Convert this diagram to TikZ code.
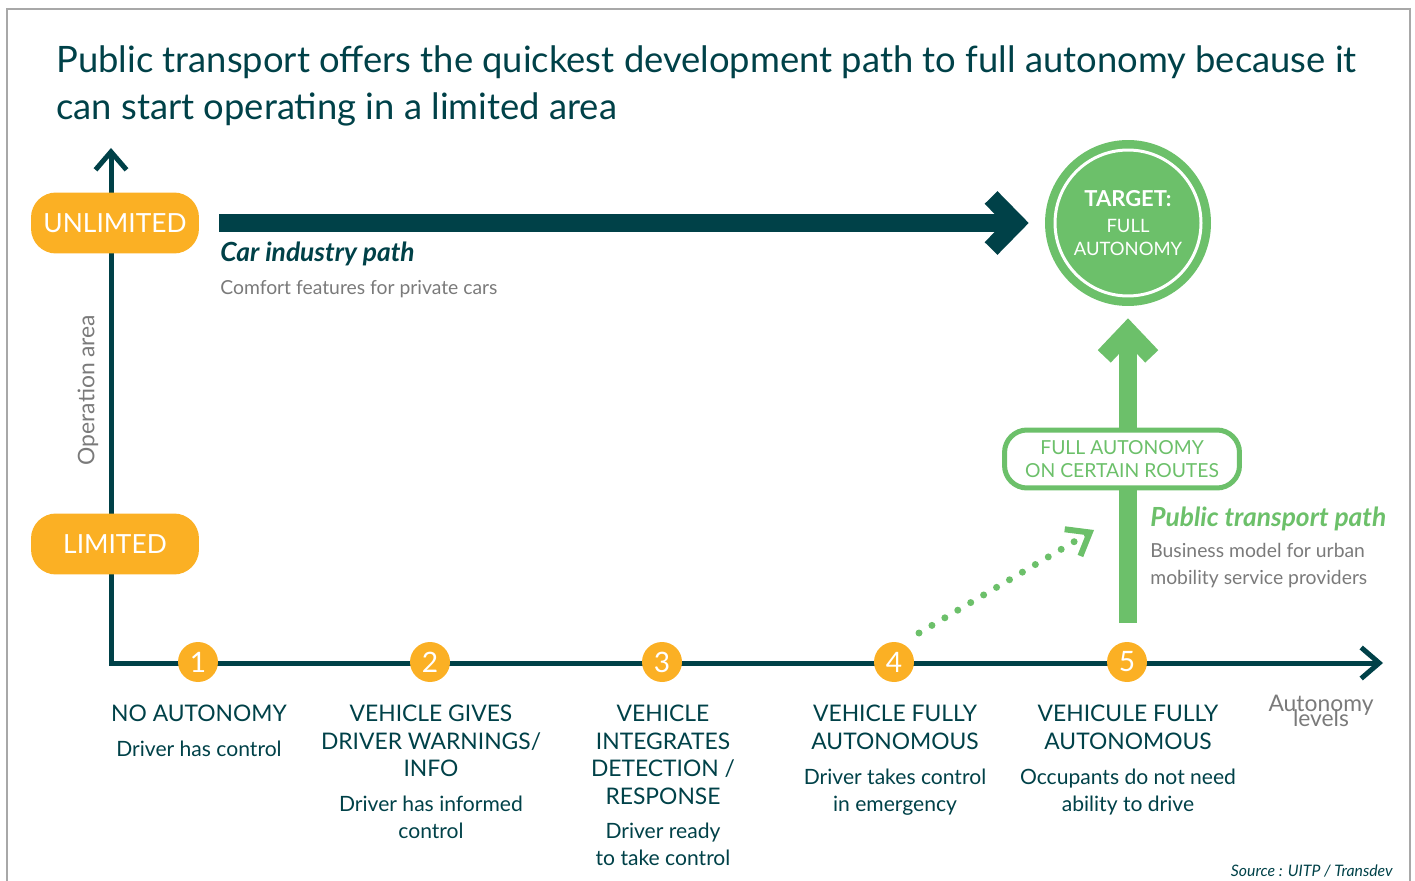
\documentclass[tikz,border=0pt]{standalone}
\usepackage{fontspec}
\setmainfont{Lato}
\usetikzlibrary{arrows.meta}
\definecolor{darkteal}{HTML}{004148}
\definecolor{autoorange}{HTML}{FBB024}
\definecolor{autogreen}{HTML}{6CC06A}
\definecolor{softgray}{HTML}{7A7A7A}
\definecolor{framegray}{HTML}{A8A8A8}
\tikzstyle{titletext}=[anchor=north west, inner sep=0pt, align=left, text=darkteal, font=\fontsize{20.7}{27}\selectfont]
\tikzstyle{pill}=[rectangle, rounded corners=0.5cm, fill=autoorange, text=white, minimum width=3.36cm, minimum height=1.22cm, font=\fontsize{15}{18}\selectfont]
\tikzstyle{level}=[circle, fill=autoorange, text=white, minimum size=0.8cm, inner sep=0pt, font=\fontsize{16}{18}\selectfont]
\tikzstyle{levelhead}=[anchor=north, inner sep=0pt, align=center, text=darkteal, font=\fontsize{13}{15.6}\selectfont]
\tikzstyle{leveltext}=[anchor=north, inner sep=0pt, align=center, text=darkteal, font=\fontsize{12}{15.4}\selectfont]
\tikzstyle{note}=[anchor=base west, inner sep=0pt, align=left, text=softgray, font=\fontsize{11}{15.3}\selectfont]
\tikzstyle{axis}=[draw=darkteal, line width=0.1cm, {Straight Barb[length=0.36cm,width=0.62cm]}-{Straight Barb[length=0.36cm,width=0.62cm]}]
\tikzstyle{cararrow}=[draw=darkteal, line width=0.36cm, -{Straight Barb[length=0.5cm,width=1.02cm]}]
\tikzstyle{ptarrow}=[draw=autogreen, line width=0.36cm, -{Straight Barb[length=0.5cm,width=0.95cm]}]
\tikzstyle{dotarrow}=[draw=autogreen, line width=0.14cm, line cap=round, dash pattern=on 0pt off 0.3cm, -{Straight Barb[length=0.4cm,width=0.62cm,line width=0.12cm]}]

\begin{document}
\begin{tikzpicture}[x=0.02cm, y=-0.02cm]
	\useasboundingbox (0,0) rectangle (1415,881);
	\draw[framegray, line width=0.03cm] (7,881) -- (7,9) -- (1410,9) -- (1410,881);

	\node (title) at (56,45)[titletext] {Public transport offers the quickest development path to full autonomy because it\\ can start operating in a limited area};

	% axes
	\coordinate (ytip) at (111,148);
	\coordinate (origin) at (111,663);
	\coordinate (xtip) at (1383,663);
	\draw[axis] (ytip) -- (origin) -- (xtip);
	\node (oparea) at (88,390)[rotate=90, text=softgray, font=\fontsize{13}{15}\selectfont] {Operation area};
	\node (axlabel) at (1321,711)[align=center, inner sep=0pt, text=softgray, font=\fontsize{13}{10}\selectfont] {Autonomy\\[-4pt] levels};

	\node (unlimited) at (115,223)[pill] {UNLIMITED};
	\node (limited) at (115,544)[pill] {LIMITED};

	% target
	\node (target) at (1128,223)[circle, fill=autogreen, minimum size=3.32cm, inner sep=0pt] {};
	\draw[white, line width=0.06cm] (target.center) circle (1.46cm);
	\node (targettext) at (1128,223)[align=center, text=white, font=\fontsize{10.5}{13}\selectfont] {{\fontsize{12.5}{15}\selectfont\bfseries TARGET:}\\[2pt] FULL\\ AUTONOMY};

	% car industry path
	\coordinate (carstart) at (219,223);
	\draw[cararrow, shorten >=0.32cm] (carstart) -- (target.west);
	\node (carpath) at (220,262)[anchor=base west, inner sep=0pt, text=darkteal, font=\fontsize{15}{18}\selectfont\bfseries\itshape] {Car industry path};
	\node (carnote) at (220,295)[note] {Comfort features for private cars};

	% public transport path
	\coordinate (ptstart) at (1128,623);
	\draw[ptarrow, shorten >=0.24cm] (ptstart) -- (target.south);
	\node (routes) at (1122,459)[rectangle, rounded corners=0.45cm, draw=autogreen, line width=0.1cm, fill=white, minimum width=4.7cm, minimum height=1.16cm, align=center, text=autogreen, font=\fontsize{11}{13}\selectfont] {FULL AUTONOMY\\ ON CERTAIN ROUTES};
	\node (ptpath) at (1150,526)[anchor=base west, inner sep=0pt, text=autogreen, font=\fontsize{15}{18}\selectfont\bfseries\itshape] {Public transport path};
	\node (ptnote) at (1150,584)[note] {Business model for urban\\ mobility service providers};

	% levels
	\node (l1) at (198,662)[level] {1};
	\node (l2) at (430,662)[level] {2};
	\node (l3) at (662,662)[level] {3};
	\node (l4) at (894,662)[level] {4};
	\node (l5) at (1127,662)[level] {5};

	\coordinate (dotstart) at (919,633);
	\coordinate (dotend) at (1094,530);
	\draw[dotarrow] (dotstart) -- (dotend);

	\node (h1) at (199,705)[levelhead] {NO AUTONOMY};
	\node (t1) at (199,741)[leveltext] {Driver has control};
	\node (h2) at (431,705)[levelhead] {VEHICLE GIVES\\ DRIVER WARNINGS/\\ INFO};
	\node (t2) at (431,796)[leveltext] {Driver has informed\\ control};
	\node (h3) at (663,705)[levelhead] {VEHICLE\\ INTEGRATES\\ DETECTION /\\ RESPONSE};
	\node (t3) at (663,823)[leveltext] {Driver ready\\ to take control};
	\node (h4) at (895,705)[levelhead] {VEHICLE FULLY\\ AUTONOMOUS};
	\node (t4) at (895,769)[leveltext] {Driver takes control\\ in emergency};
	\node (h5) at (1128,705)[levelhead] {VEHICULE FULLY\\ AUTONOMOUS};
	\node (t5) at (1128,769)[leveltext] {Occupants do not need\\ ability to drive};

	\node (source) at (1393,876)[anchor=base east, inner sep=0pt, text=darkteal, font=\fontsize{9}{11}\selectfont\itshape] {Source : UITP / Transdev};
\end{tikzpicture}
\end{document}
